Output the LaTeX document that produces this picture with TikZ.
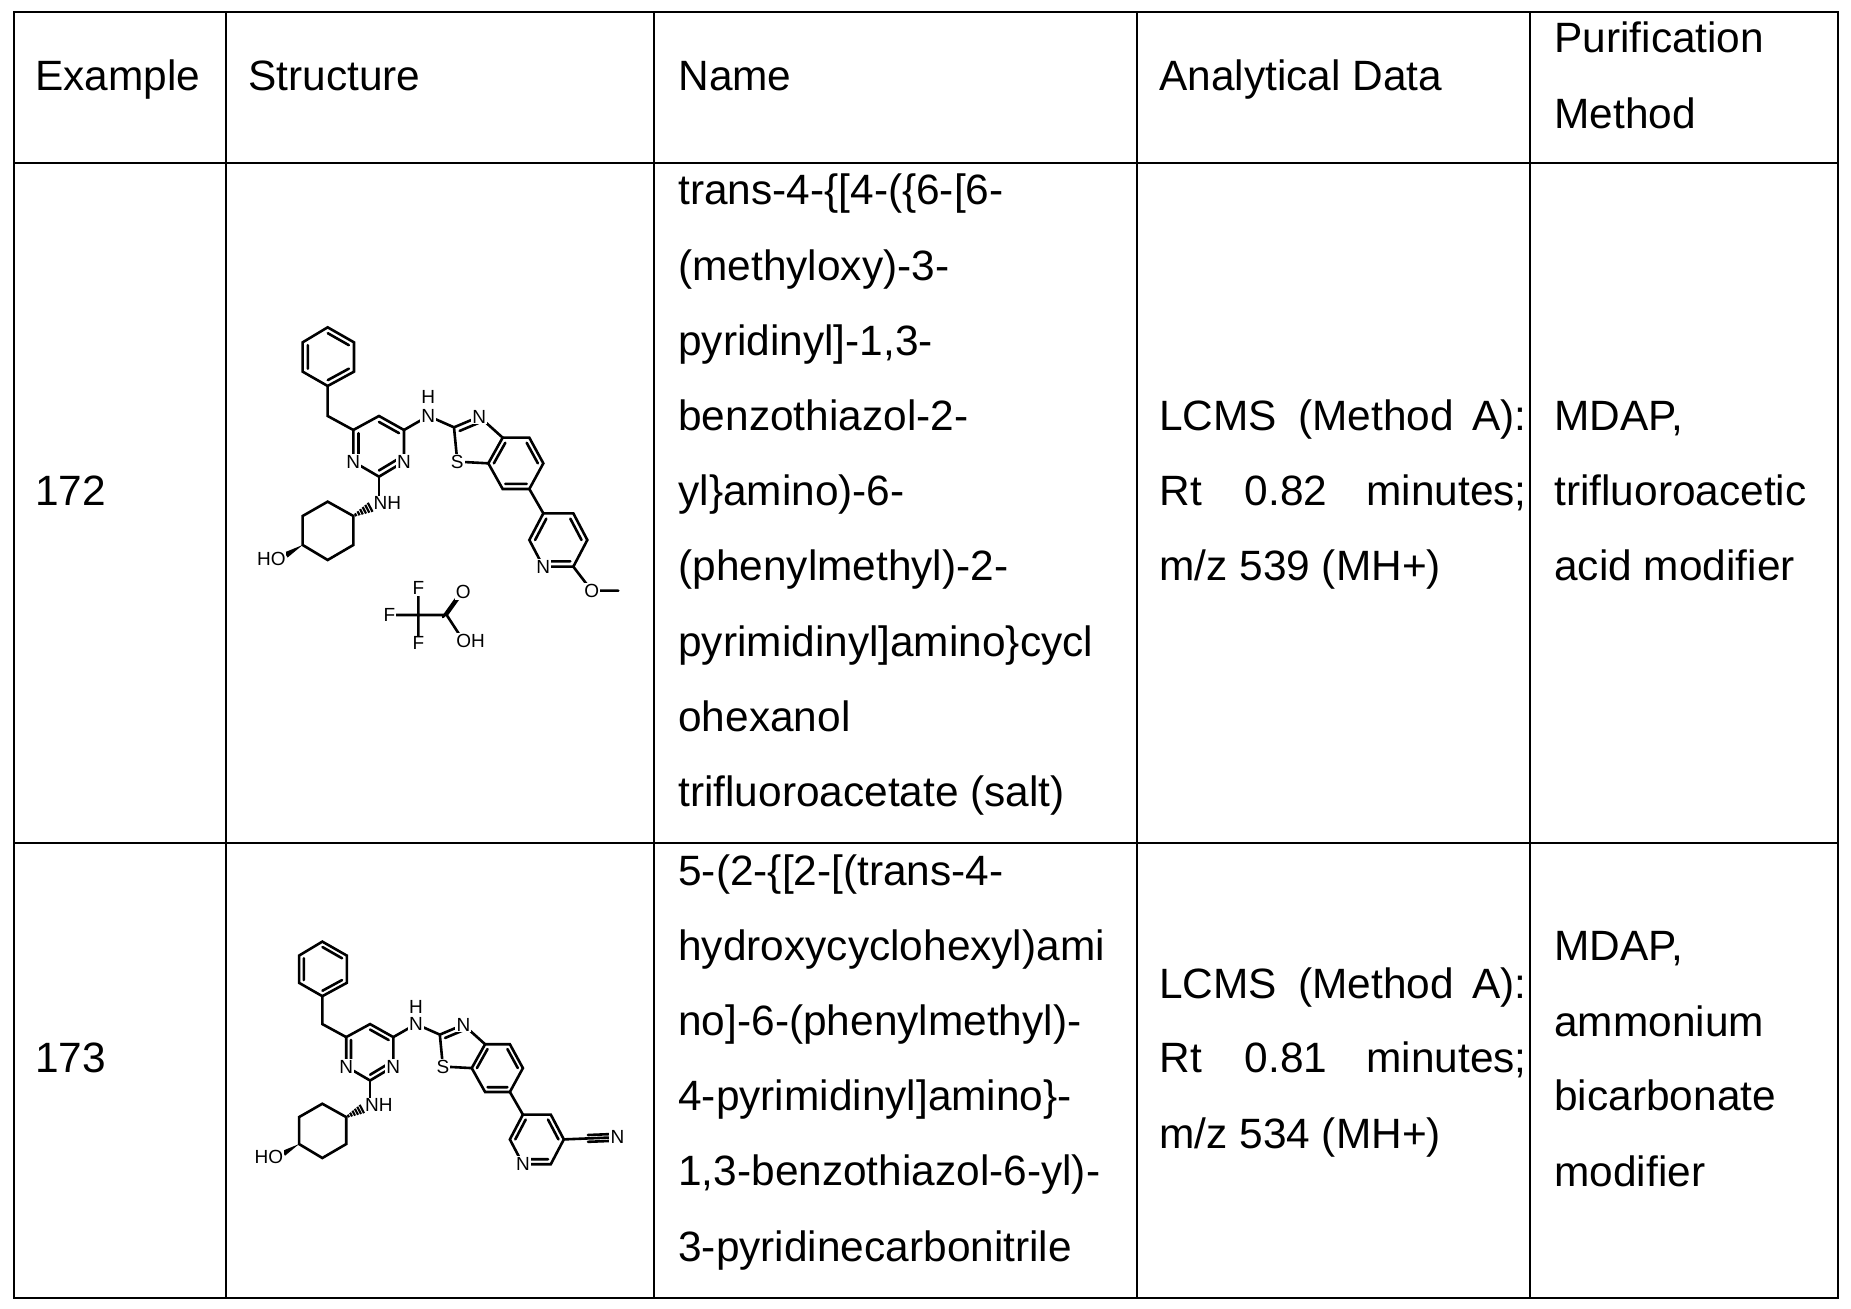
\documentclass[tikz,border=0pt]{standalone}
\usepackage{fontspec}
\setmainfont{Liberation Sans}
\usetikzlibrary{calc}
\begin{document}
\begin{tikzpicture}[x=0.5pt,y=-0.5pt,
  txt/.style={anchor=base west,inner sep=0pt,font=\fontsize{21.2pt}{25pt}\selectfont},
  txr/.style={anchor=base east,inner sep=0pt,font=\fontsize{21.2pt}{25pt}\selectfont},
  grid/.style={line width=1.1pt},
  bond/.style={line width=1.3pt,line cap=round},
  atom/.style={fill=white,inner sep=0.6pt,font=\fontsize{9.5pt}{10pt}\selectfont}]
\useasboundingbox (0,0) rectangle (1851,1309);
% table
\draw[grid] (14,12) rectangle (1838,1298);
\foreach \x in {226,654,1137,1530} \draw[grid] (\x,12) -- (\x,1298);
\foreach \y in {163,843} \draw[grid] (14,\y) -- (1838,\y);
% header
\node[txt] (h1) at (35,91) {Example};
\node[txt] (h2) at (248,91) {Structure};
\node[txt] (h3) at (678,91) {Name};
\node[txt] (h4) at (1159,91) {Analytical Data};
\node[txt] (h5) at (1554,53) {Purification};
\node[txt] (h6) at (1554,129) {Method};
% row 1
\node[txt] (e1) at (35,506) {172};
\foreach \t [count=\i] in {{trans-4-\{[4-(\{6-[6-},{(methyloxy)-3-},{pyridinyl]-1,3-},{benzothiazol-2-},{yl\}amino)-6-},{(phenylmethyl)-2-},{pyrimidinyl]amino\}cycl},{ohexanol},{trifluoroacetate (salt)}}
  \node[txt] (n1\i) at (678,{205+75.2*(\i-1)}) {\t};
\node[txt] (a11) at (1159,431) {LCMS};
\node[txt] (a12) at (1298,431) {(Method};
\node[txr] (a13) at (1527,431) {A):};
\node[txt] (a14) at (1159,506) {Rt};
\node[anchor=base,inner sep=0pt,font=\fontsize{21.2pt}{25pt}\selectfont] (a15) at (1286,506) {0.82};
\node[txr] (a16) at (1527,506) {minutes;};
\node[txt] (a17) at (1159,581) {m/z 539 (MH+)};
\node[txt] (p11) at (1554,431) {MDAP,};
\node[txt] (p12) at (1554,506) {trifluoroacetic};
\node[txt] (p13) at (1554,581) {acid modifier};
% row 2
\node[txt] (e2) at (35,1072) {173};
\foreach \t [count=\i] in {{5-(2-\{[2-[(trans-4-},{hydroxycyclohexyl)ami},{no]-6-(phenylmethyl)-},{4-pyrimidinyl]amino\}-},{1,3-benzothiazol-6-yl)-},{3-pyridinecarbonitrile}}
  \node[txt] (n2\i) at (678,{885+75.2*(\i-1)}) {\t};
\node[txt] (a21) at (1159,998) {LCMS};
\node[txt] (a22) at (1298,998) {(Method};
\node[txr] (a23) at (1527,998) {A):};
\node[txt] (a24) at (1159,1072) {Rt};
\node[anchor=base,inner sep=0pt,font=\fontsize{21.2pt}{25pt}\selectfont] (a25) at (1286,1072) {0.81};
\node[txr] (a26) at (1527,1072) {minutes;};
\node[txt] (a27) at (1159,1148) {m/z 534 (MH+)};
\node[txt] (p21) at (1554,960) {MDAP,};
\node[txt] (p22) at (1554,1036) {ammonium};
\node[txt] (p23) at (1554,1110) {bicarbonate};
\node[txt] (p24) at (1554,1186) {modifier};
% common molecule
\newcommand{\mycore}[1]{%
 \coordinate (B1) at (293,52); \coordinate (B2) at (372,97); \coordinate (B3) at (372,185);
 \coordinate (B4) at (293,228); \coordinate (B5) at (218,185); \coordinate (B6) at (218,97); \coordinate (Bc) at (295,140);
 \coordinate (CH) at (293,318);
 \coordinate (P6) at (370,360); \coordinate (P5) at (447,318); \coordinate (P4) at (522,360);
 \coordinate (N3) at (522,455); \coordinate (C2) at (447,500); \coordinate (N1) at (370,455); \coordinate (Pc) at (447,407);
 \coordinate (NA) at (595,318);
 \coordinate (T2) at (672,352); \coordinate (TN) at (748,320); \coordinate (C3a) at (818,383);
 \coordinate (C7a) at (775,460); \coordinate (S) at (682,455); \coordinate (Tc) at (740,395);
 \coordinate (C4) at (898,383); \coordinate (C5) at (940,460); \coordinate (C6) at (898,537); \coordinate (C7) at (818,537); \coordinate (Zc) at (858,460);
 \coordinate (R3) at (940,610); \coordinate (R4) at (1030,610); \coordinate (R5) at (1072,690);
 \coordinate (R6) at (1030,770); \coordinate (RN) at (940,770); \coordinate (R2) at (898,690); \coordinate (Rc) at (985,690);
 \coordinate (NB) at (447,580);
 \coordinate (Y1) at (370,618); \coordinate (Y2) at (293,575); \coordinate (Y3) at (218,618);
 \coordinate (Y4) at (218,705); \coordinate (Y5) at (293,750); \coordinate (Y6) at (370,705);
 \draw[bond] (B1)--(B2)--(B3)--(B4)--(B5)--(B6)--cycle;
 \draw[bond] ($(B6)!0.2!(Bc)$)--($(B5)!0.2!(Bc)$) ($(B1)!0.2!(Bc)$)--($(B2)!0.2!(Bc)$) ($(B3)!0.2!(Bc)$)--($(B4)!0.2!(Bc)$);
 \draw[bond] (B4)--(CH)--(P6);
 \draw[bond] (P6)--(P5)--(P4)--(N3)--(C2)--(N1)--cycle;
 \draw[bond] ($(P5)!0.2!(Pc)$)--($(P4)!0.2!(Pc)$) ($(P6)!0.2!(Pc)$)--($(N1)!0.2!(Pc)$) ($(C2)!0.2!(Pc)$)--($(N3)!0.2!(Pc)$);
 \draw[bond] (P4)--(NA)--(T2);
 \draw[bond] (T2)--(TN)--(C3a)--(C7a)--(S)--cycle;
 \draw[bond] ($(T2)!0.25!(Tc)$)--($(TN)!0.25!(Tc)$);
 \draw[bond] (C3a)--(C4)--(C5)--(C6)--(C7)--(C7a);
 \draw[bond] ($(C3a)!0.2!(Zc)$)--($(C7a)!0.2!(Zc)$) ($(C4)!0.2!(Zc)$)--($(C5)!0.2!(Zc)$) ($(C6)!0.2!(Zc)$)--($(C7)!0.2!(Zc)$);
 \draw[bond] (C6)--(R3);
 \draw[bond] (R3)--(R4)--(R5)--(R6)--(RN)--(R2)--cycle;
 \draw[bond] ($(R3)!0.2!(Rc)$)--($(R2)!0.2!(Rc)$) ($(R4)!0.2!(Rc)$)--($(R5)!0.2!(Rc)$) ($(RN)!0.2!(Rc)$)--($(R6)!0.2!(Rc)$);
 \draw[bond] (C2)--(NB);
 \draw[bond] (Y1)--(Y2)--(Y3)--(Y4)--(Y5)--(Y6)--cycle;
 \foreach \t in {0.12,0.27,0.42,0.57,0.72,0.87}{
   \pgfmathsetmacro{\cx}{370+58*\t}\pgfmathsetmacro{\cy}{618-30*\t}\pgfmathsetmacro{\hw}{3+14*\t}
   \draw[line width=#1] ({\cx+0.46*\hw},{\cy+0.89*\hw})--({\cx-0.46*\hw},{\cy-0.89*\hw});}
 \fill (218,705)--(172.6,742.7)--(163.4,727.3)--cycle;
 \node[atom] (lN1) at (N1) {N};
 \node[atom] (lN3) at (N3) {N};
 \node[atom] (lNA) at (NA) {N};
 \node[atom,inner sep=0pt] (lHA) at (595,262) {H};
 \node[atom] (lTN) at (TN) {N};
 \node[atom] (lS) at (S) {S};
 \node[atom] (lRN) at (RN) {N};
 \node[atom,anchor=west,inner sep=0.3pt] (lNB) at (428,580) {NH};
 \node[atom,anchor=east,inner sep=0.3pt] (lHO) at (170,748) {HO};
}
% molecule 1
\begin{scope}[shift={(230,310)},scale=1/3]
 \mycore{1.1pt}
 \coordinate (OM) at (1085,842); \coordinate (Me) at (1165,842);
 \draw[bond] (R6)--(OM)--(Me);
 \node[atom] (lOM) at (OM) {O};
 \coordinate (Fa) at (565,915); \coordinate (Fb) at (650,915); \coordinate (FO) at (700,845); \coordinate (FH) at (700,992);
 \draw[bond] (565,835)--(565,1000) (478,915)--(Fa)--(Fb)--(FO) (Fb)--(FH);
 \draw[bond] ($(Fb)+(-11,6)$)--($(FO)+(-11,6)$);
 \node[atom] (F1) at (565,835) {F};
 \node[atom] (F2) at (478,915) {F};
 \node[atom] (F3) at (565,1000) {F};
 \node[atom] (lFO) at (FO) {O};
 \node[atom,anchor=west,inner sep=0.3pt] (lFH) at (676,992) {OH};
\end{scope}
% molecule 2
\begin{scope}[shift={(231.5,925.5)},scale=0.31]
 \mycore{1.05pt}
 \coordinate (CNn) at (1245,683);
 \draw[bond] (R5)--(CNn);
 \draw[bond] ($(R5)!0.45!(CNn)+(0,-11)$)--($(CNn)+(0,-11)$) ($(R5)!0.45!(CNn)+(0,11)$)--($(CNn)+(0,11)$);
 \node[atom] (lCN) at (CNn) {N};
\end{scope}
\end{tikzpicture}
\end{document}
